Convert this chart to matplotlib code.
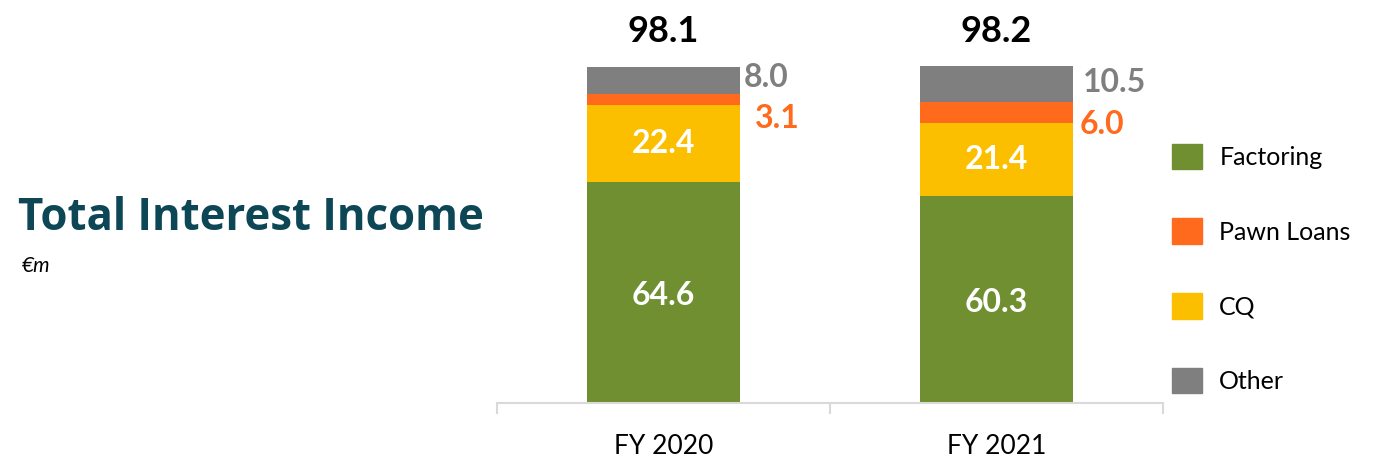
import matplotlib
matplotlib.use("Agg")
import matplotlib.pyplot as plt
from matplotlib.patches import Patch

# data
years = ["FY 2020", "FY 2021"]
factoring = [64.6, 60.3]
cq = [22.4, 21.4]
pawn = [3.1, 6.0]
other = [8.0, 10.5]
totals = [98.1, 98.2]

green = "#6F8F30"
yellow = "#FCBF00"
orange = "#FF6A1C"
grey = "#7F7F7F"

plt.rcParams["font.family"] = ["Lato", "DejaVu Sans"]

fig = plt.figure(figsize=(13.74, 4.58), dpi=100)
ax = fig.add_axes([0.3617, 0.1201, 0.4847, 0.823])

x = [0, 1]
w = 0.46
b1 = factoring
b2 = [a + b for a, b in zip(b1, cq)]
b3 = [a + b for a, b in zip(b2, pawn)]

ax.bar(x, factoring, w, color=green)
ax.bar(x, cq, w, bottom=b1, color=yellow)
ax.bar(x, pawn, w, bottom=b2, color=orange)
ax.bar(x, other, w, bottom=b3, color=grey)

# labels inside the bars
for i in x:
    ax.text(i, factoring[i] / 2 - 0.8, f"{factoring[i]:.1f}", ha="center", va="center",
            color="white", fontsize=23, fontweight="bold")
    ax.text(i, b1[i] + cq[i] / 2, f"{cq[i]:.1f}", ha="center", va="center",
            color="white", fontsize=23, fontweight="bold")
    ax.text(i, totals[i] + 10.2, f"{totals[i]:.1f}", ha="center", va="center",
            color="black", fontsize=26, fontweight="bold")

# side labels for the small segments
ax.text(0 + w / 2 + 0.01, 95.0, f"{other[0]:.1f}", ha="left", va="center",
        color=grey, fontsize=23, fontweight="bold")
ax.text(0 + w / 2 + 0.045, 83.0, f"{pawn[0]:.1f}", ha="left", va="center",
        color=orange, fontsize=23, fontweight="bold")
ax.text(1 + w / 2 + 0.03, 93.5, f"{other[1]:.1f}", ha="left", va="center",
        color=grey, fontsize=23, fontweight="bold")
ax.text(1 + w / 2 + 0.02, 81.2, f"{pawn[1]:.1f}", ha="left", va="center",
        color=orange, fontsize=23, fontweight="bold")

ax.set_xlim(-0.5, 1.5)
ax.set_ylim(0, 110)
for s in ["top", "right", "left"]:
    ax.spines[s].set_visible(False)
ax.spines["bottom"].set_color("#D9D9D9")
ax.spines["bottom"].set_linewidth(1.5)
ax.set_yticks([])
ax.set_xticks([-0.5, 0.5, 1.5])
ax.set_xticklabels([])
ax.tick_params(axis="x", which="major", length=8, width=1.5, color="#D9D9D9")
ax.set_xticks(x, minor=True)
ax.set_xticklabels(years, minor=True, fontsize=19)
ax.tick_params(axis="x", which="minor", length=0, pad=22)

# title on the left
fig.text(0.013, 0.522, "Total Interest Income", fontsize=31.5, fontweight="bold",
         color="#0D4756", ha="left", va="center", family="Open Sans")
fig.text(0.016, 0.42, "€m", fontsize=15, style="italic", ha="left", va="center")

handles = [Patch(color=green), Patch(color=orange), Patch(color=yellow), Patch(color=grey)]
labels = ["Factoring", "Pawn Loans", "CQ", "Other"]
fig.legend(handles, labels, loc="upper left", bbox_to_anchor=(0.8365, 0.735),
           frameon=False, fontsize=18, handlelength=1.2, handleheight=1.2,
           labelspacing=1.96, handletextpad=0.7)

fig.savefig("out.png", dpi=100)
